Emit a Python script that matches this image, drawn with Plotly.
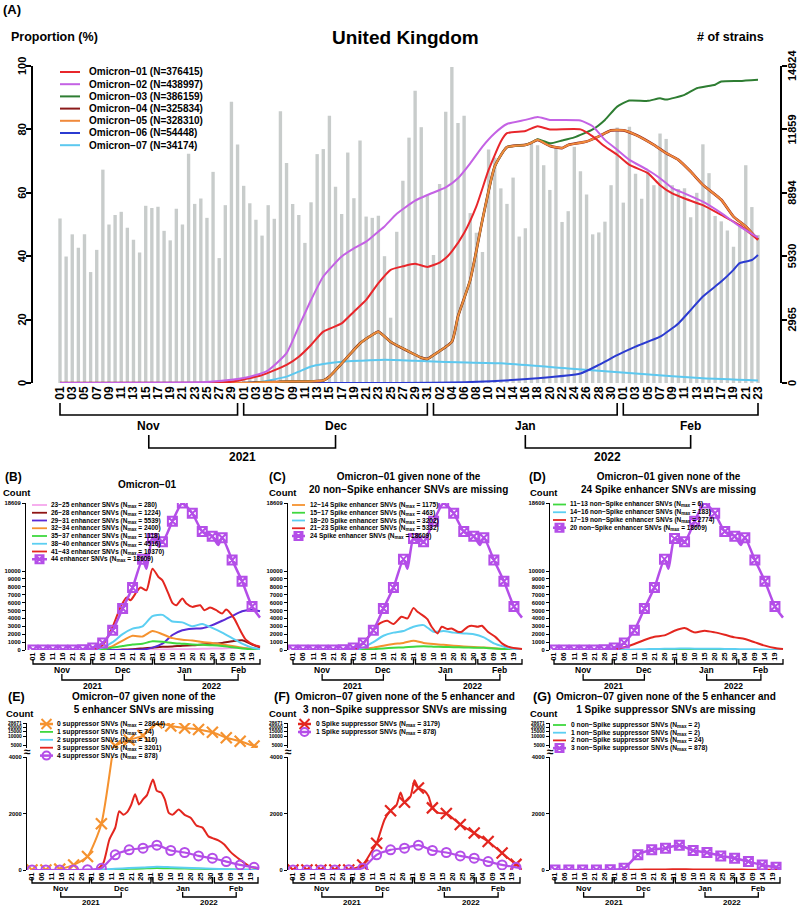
import datetime as dt
import math
import plotly.graph_objects as go

START = dt.date(2021, 11, 1)
LAST_DAY = 114

# ================= Panel A data =================
strains_per_day = [7694, 5915, 6952, 6330, 6952, 5188, 6226, 9977, 7412, 7857,
                   8005, 7264, 6700, 6107, 8287, 8183, 8242, 7116, 6671, 8153,
                   7412, 10718, 8376, 8628, 7723, 9873, 5841, 8316, 13149, 11148,
                   9221, 8405, 7634, 6893, 8316, 7679, 12704, 10288, 8376, 7857,
                   6552, 8450, 10703, 10940, 12497, 9176, 7901, 10777, 8642, 11340,
                   7783, 7723, 7827, 5930, 3054, 7071, 9458, 11474, 13668, 11963,
                   8776, 5989, 9309, 12689, 14780, 12156, 12497, 7946, 7027, 6122,
                   10925, 10540, 9102, 8376, 9606, 6849, 7234, 11177, 11118, 10184,
                   9028, 11029, 7531, 8035, 11044, 9902, 8820, 6952, 7041, 7545,
                   9250, 11948, 8435, 11978, 9784, 8613, 9932, 9250, 11666, 11414,
                   9250, 9072, 9102, 7753, 8894, 11162, 9813, 7812, 7560, 7130,
                   6374, 7412, 10184, 8227, 6923]
right_ticks = [0, 2965, 5930, 8894, 11859, 14824]
left_ticks = [0, 20, 40, 60, 80, 100]

om01_days = [0, 25, 28, 33, 37, 39, 41, 43, 46, 48, 50, 52, 54, 56, 58, 60, 62, 63, 64, 66,
             68, 70, 72, 73, 76, 78, 80, 85, 87, 89, 91, 93, 96, 98, 100, 102, 105, 108, 111, 114]
om01_vals = [0, 0.1, 0.4, 2.5, 5.7, 8.3, 12, 16.2, 18.8, 22.5, 26.2, 31.5, 35.7, 36.8, 37.6, 36.6, 38.0, 39.4, 41.5, 47.3,
             55.7, 67.2, 76.2, 78.8, 79.5, 81.0, 80.0, 80.0, 77.8, 74.6, 72.0, 68.8, 66.2, 62.4, 59.8, 58.2, 56.1, 53.0, 49.8, 45.2]
om02_days = [0, 24, 28, 31, 34, 37, 39, 41, 43, 46, 48, 50, 52, 53, 55, 58, 60, 63, 65, 67,
             69, 71, 73, 76, 78, 80, 85, 87, 89, 91, 93, 96, 98, 100, 102, 105, 108, 111, 114]
om02_vals = [0, 0.3, 1, 2, 4, 9.4, 17.8, 26.2, 33.6, 39.9, 42.5, 44.6, 47.8, 49.4, 53.4, 57.5, 59.3, 61.7, 64.6, 69.3,
             74.6, 78.8, 81.7, 83.0, 83.9, 83.0, 82.8, 81.0, 76.7, 73.6, 70.4, 67.2, 64.6, 61.5, 59.8, 57.2, 53.6, 49.4, 45.9]
om03_days = [0, 30, 36, 43, 44, 47, 49, 51, 52, 54, 57, 59, 60, 61, 64, 65, 67, 69, 71, 73,
             76, 77, 78, 80, 82, 84, 87, 89, 91, 93, 96, 98, 99, 102, 104, 107, 108, 111, 114]
om03_vals = [0, 0, 0.4, 0.8, 2, 8.3, 12.5, 15.2, 16.2, 13, 9.9, 8, 7.6, 8.8, 13, 21, 32.5, 51.5, 68.3, 74.4,
             75.1, 75.8, 76.9, 75.6, 76.5, 77.5, 80, 83, 87.2, 89.1, 89, 89.8, 89.4, 90.9, 93, 94.1, 95.1, 95.3, 95.7]
om04_days = [0, 30, 36, 43, 44, 47, 49, 51, 52, 54, 57, 59, 60, 61, 64, 65, 67, 69, 71, 73,
             76, 77, 78, 80, 82, 83, 86, 88, 90, 92, 94, 97, 99, 101, 103, 105, 108, 110, 112, 114]
om04_vals = [0, 0, 0.4, 0.8, 2, 8.3, 12.5, 15.2, 16.2, 13, 9.9, 8, 7.6, 8.8, 13, 21, 32.5, 51.5, 68.3, 74.4,
             75.1, 75.8, 76.7, 74.8, 74.1, 75.1, 76.2, 77.8, 79.7, 79.7, 78.3, 75.1, 72.5, 70.4, 66.7, 62.5, 57.8, 52.5, 49.4, 45.2]
om05_days = [0, 30, 36, 43, 44, 47, 49, 51, 52, 54, 57, 59, 60, 61, 64, 65, 67, 69, 71, 73,
             76, 77, 78, 80, 82, 83, 86, 88, 90, 92, 94, 97, 99, 101, 103, 105, 108, 110, 112, 114]
om05_vals = [0, 0, 0.4, 0.8, 2, 8.3, 12.5, 15.2, 16.2, 13, 9.9, 8, 7.6, 8.8, 13, 21, 32.5, 51.5, 68.3, 74.4,
             75.1, 75.8, 76.7, 74.8, 74.1, 75.1, 76.2, 77.8, 79.7, 79.7, 78.3, 75.1, 72.5, 70.4, 66.7, 62.5, 57.8, 52.5, 49.4, 45.2]
om06_days = [0, 55, 67, 78, 85, 88, 91, 94, 98, 101, 103, 105, 108, 110, 111, 113, 114]
om06_vals = [0, 0, 0.3, 1.5, 3, 5.7, 8.8, 11.5, 14.6, 18.8, 23, 27.3, 32, 35.7, 37.8, 38.8, 40.4]
om07_days = [0, 30, 33, 37, 39, 41, 43, 46, 49, 53, 58, 62, 72, 83, 94, 105, 114]
om07_vals = [0, 0, 0.4, 2, 3.6, 5.2, 6, 6.7, 7, 7.3, 7, 6.7, 6.2, 4.6, 3, 1.5, 0.8]

a_labels = ["Omicron−01 (N=376415)", "Omicron−02 (N=438997)", "Omicron−03 (N=386159)",
            "Omicron−04 (N=325834)", "Omicron−05 (N=328310)", "Omicron−06 (N=54448)",
            "Omicron−07 (N=34174)"]
a_colors = ["#e8262b", "#c462e4", "#2e7d32", "#8b1a1a", "#f08a3c", "#2b3bd1", "#5cc8ef"]

# ================= Panels B-D data (Omicron-01) =================
days5 = [0, 5, 10, 15, 20, 25, 30, 35, 40, 45, 50, 55, 60, 65, 70, 75, 80, 85, 90, 95, 100, 105, 110, 114]
all_enh_days = [0, 5, 10, 15, 20, 25, 30, 35, 40, 45, 50, 55, 57, 60, 65, 70, 75, 80, 85, 90, 93, 95, 100, 105, 110, 114]
all_enh_vals = [0, 0, 0, 0, 0, 30, 250, 900, 2500, 5250, 7900, 11500, 10300, 14100, 13700, 16300, 18609, 17300,
                15000, 14400, 13300, 14200, 11400, 8700, 5500, 4100]
b_23_25 = [0, 0, 0, 0, 0, 0, 0, 0, 0, 0, 0, 0, 0, 50, 80, 100, 120, 150, 180, 200, 250, 280, 200, 100]
b_26_28 = [0, 0, 0, 0, 0, 0, 0, 0, 0, 50, 100, 200, 300, 400, 450, 550, 600, 700, 800, 900, 1100, 1224, 700, 300]
b_29_31 = [0, 0, 0, 0, 0, 0, 0, 0, 0, 0, 20, 50, 300, 800, 1900, 2500, 2700, 2750, 3150, 3700, 4300, 4900, 5100, 4900]
b_32_34 = [0, 0, 0, 0, 0, 0, 0, 100, 500, 1200, 1800, 1700, 2400, 2000, 1500, 1300, 1200, 1000, 900, 700, 500, 300, 150, 80]
b_35_37 = [0, 0, 0, 0, 0, 0, 0, 50, 300, 500, 700, 800, 1100, 1050, 900, 800, 700, 650, 600, 500, 350, 200, 80, 40]
b_38_40 = [0, 0, 0, 0, 0, 0, 0, 300, 1000, 2000, 2700, 3000, 4300, 4450, 3600, 3500, 3000, 3300, 2800, 2200, 1500, 800, 300, 100]
b_41_43_days = [0, 30, 35, 40, 44, 47, 49, 52, 54, 57, 60, 63, 65, 68, 70, 72, 75, 77, 80, 84, 86, 89, 92, 95, 97,
                101, 104, 107, 111, 114]
b_41_43_vals = [0, 0, 630, 2940, 5460, 6640, 6300, 7350, 7900, 7560, 10300, 9240, 8820, 7140, 5970, 5670, 6510, 5880,
                5460, 5670, 5040, 5380, 5040, 4620, 5130, 4000, 2520, 1260, 630, 420]
c_12_14 = [0, 0, 0, 0, 0, 0, 0, 80, 300, 550, 750, 900, 1175, 900, 750, 650, 550, 450, 380, 320, 220, 120, 50, 20]
c_15_17 = [0, 0, 0, 0, 0, 0, 0, 30, 100, 200, 280, 330, 420, 463, 420, 380, 350, 320, 300, 270, 200, 120, 50, 20]
c_18_20 = [0, 0, 0, 0, 0, 0, 0, 300, 1000, 1800, 2200, 2400, 2950, 3150, 2300, 2400, 2200, 2100, 2000, 1600, 840, 420, 100, 50]
c_21_23_days = [0, 30, 35, 40, 42, 45, 47, 50, 54, 57, 60, 62, 66, 67, 69, 72, 74, 77, 79, 82, 84, 87, 89, 92, 94,
                97, 101, 104, 107, 111, 114]
c_21_23_vals = [0, 0, 840, 2520, 3150, 3600, 3700, 3280, 4200, 4000, 5332, 4830, 4120, 3870, 2940, 2100, 2940, 2650,
                2730, 2310, 2310, 2940, 3070, 2940, 3070, 2310, 1600, 840, 420, 210, 130]
d_11_13 = [0, 0, 0, 0, 0, 0, 0, 0, 0, 0, 1, 2, 3, 4, 5, 6, 5, 4, 3, 3, 2, 1, 1, 0]
d_14_16 = [0, 0, 0, 0, 0, 0, 0, 20, 60, 100, 130, 150, 170, 183, 170, 160, 150, 140, 120, 100, 80, 50, 20, 10]
d_17_19 = [0, 0, 0, 0, 0, 0, 50, 340, 760, 1260, 1680, 1850, 2440, 2774, 2230, 2440, 2230, 1930, 1600, 1390, 970, 550, 250, 130]

# ================= Panels E-G data (Omicron-07) =================
days7 = [0, 7, 14, 21, 28, 35, 42, 49, 56, 63, 70, 77, 84, 91, 98, 105, 112, 114]
e_0 = [0, 0, 30, 180, 480, 1640, 4800, 7500, 10700, 28644, 22800, 19400, 17300, 13800, 9000, 6800, 4700, 4400]
e_1 = [0, 0, 0, 0, 0, 5, 20, 40, 55, 74, 60, 50, 40, 30, 20, 10, 5, 3]
e_2 = [0, 0, 0, 0, 0, 10, 40, 70, 90, 116, 100, 80, 60, 45, 30, 15, 8, 5]
e_3_days = [0, 30, 33, 36, 39, 42, 44, 46, 48, 50, 52, 54, 56, 58, 61, 63, 65, 67, 69, 71, 74, 77, 80, 83, 86, 89,
            91, 94, 97, 100, 105, 110, 114]
e_3_vals = [0, 0, 30, 250, 1070, 1500, 2080, 1960, 2050, 2300, 2680, 2320, 2500, 2650, 3201, 2800, 2750, 2500, 2020,
            1960, 2140, 1950, 1850, 1570, 1500, 1190, 1130, 1050, 900, 650, 360, 120, 60]
all_supp = [0, 0, 0, 0, 10, 60, 536, 714, 774, 878, 690, 620, 500, 417, 298, 180, 95, 70]
f_0_days = [0, 7, 14, 21, 28, 35, 39, 42, 46, 49, 52, 54, 56, 59, 61, 63, 66, 68, 70, 73, 77, 84, 91, 98, 105, 112, 114]
f_0_vals = [0, 0, 0, 0, 0, 180, 600, 950, 1790, 2100, 2300, 2740, 2400, 2600, 3179, 2900, 2800, 2620, 2200, 2020,
            2000, 1610, 1310, 1010, 600, 200, 150]
g_0 = [0, 0, 0, 0, 0, 0, 1, 1, 2, 2, 2, 1, 1, 1, 0, 0, 0, 0]
g_1 = [0, 0, 0, 0, 0, 0, 1, 1, 2, 2, 2, 1, 1, 1, 0, 0, 0, 0]
g_2 = [0, 0, 0, 0, 0, 2, 10, 18, 22, 24, 22, 20, 18, 15, 12, 8, 5, 3]

sub_yticks = [0, 1000, 2000, 3000, 4000, 5000, 6000, 7000, 8000, 9000, 10000, 18609]
low_yticks = [0, 2000, 4000]
up_yticks = [5000, 10000, 15000, 20000, 28671]

PINK, DRED, INDIGO, ORANGE = "#f5a6ec", "#8e1414", "#5a2ad6", "#f5922f"
GREEN, CYAN, RED, PURPLE = "#3fd83f", "#5ccff2", "#e3261f", "#b44ee8"

# ================= helpers =================
W, H = 798, 908
def PX(p): return p / W
def PY(p): return 1 - p / H
FAM = "Liberation Sans, Arial, sans-serif"
def F(size): return dict(family=FAM, size=size, color="black", weight="bold")

def dlabel(d): return (START + dt.timedelta(days=int(d))).strftime("%d")

def month_spans():
    spans = []
    for d in range(LAST_DAY + 1):
        date = START + dt.timedelta(days=d)
        key = (date.year, date.strftime("%b"))
        if not spans or spans[-1][0] != key:
            spans.append([key, d, d])
        else:
            spans[-1][2] = d
    return spans

fig = go.Figure()
layout = dict(width=W, height=H, margin=dict(l=0, r=0, t=0, b=0, pad=0, autoexpand=False), showlegend=False,
              paper_bgcolor="white", plot_bgcolor="rgba(0,0,0,0)")

def text(x, y, t, size, xanchor="center", yanchor="middle", xref="paper", yref="paper", angle=0):
    fig.add_annotation(x=x, y=y, xref=xref, yref=yref, text=t, showarrow=False, font=F(size),
                       xanchor=xanchor, yanchor=yanchor, borderpad=0, textangle=angle)

def xcfg(dom, d0px, d1px, tickdays, fs):
    ppd = (d1px - d0px) / LAST_DAY
    r0 = (dom[0] - d0px) / ppd
    r1 = LAST_DAY + (dom[1] - d1px) / ppd
    return dict(domain=[PX(dom[0]), PX(dom[1])], range=[r0, r1], showgrid=False, zeroline=False,
                showline=False, ticks="", tickmode="array", tickvals=tickdays, automargin=False,
                ticktext=[dlabel(d) for d in tickdays], tickangle=-90, tickfont=F(fs), fixedrange=True)

def ycfg(top, bot, rng, tickvals, fs, anchor, side="left", typ="linear", ticklen=3, lw=1.3, labels=True):
    return dict(domain=[PY(bot), PY(top)], range=rng, type=typ, showgrid=False, zeroline=False, showline=True,
                linecolor="black", linewidth=lw, ticks="outside", ticklen=ticklen, tickwidth=lw, tickcolor="black",
                tickmode="array", tickvals=tickvals, ticktext=[str(v) for v in tickvals], tickfont=F(fs),
                anchor=anchor, side=side, fixedrange=True, automargin=False, showticklabels=labels)

def brackets(xref, m_top, m_bot, m_lab, y_top, y_bot, y_lab, fs, lw):
    centers = []
    for (yr, mname), d0, d1 in month_spans():
        fig.add_shape(type="path", xref=xref, yref="paper",
                      path=f"M {d0},{PY(m_top)} L {d0},{PY(m_bot)} L {d1},{PY(m_bot)} L {d1},{PY(m_top)}",
                      line=dict(color="black", width=lw))
        c = (d0 + d1) / 2
        text(c, PY(m_lab), mname, fs, xref=xref)
        centers.append((yr, c))
    years = {}
    for yr, c in centers:
        years.setdefault(yr, []).append(c)
    for yr, cs in years.items():
        a, b = cs[0], cs[-1]
        fig.add_shape(type="path", xref=xref, yref="paper",
                      path=f"M {a},{PY(y_top)} L {a},{PY(y_bot)} L {b},{PY(y_bot)} L {b},{PY(y_top)}",
                      line=dict(color="black", width=lw))
        text((a + b) / 2, PY(y_lab), str(yr), fs, xref=xref)

glyphs = []
def legend(entries, xl0, xl1, xt, y0, dy, fs, lw):
    for i, (label, color, sym, msize) in enumerate(entries):
        y = y0 + i * dy
        fig.add_shape(type="line", xref="paper", yref="paper", x0=PX(xl0), x1=PX(xl1), y0=PY(y), y1=PY(y),
                      line=dict(color=color, width=lw if sym is None else lw + 0.7))
        text(PX(xt), PY(y), label, fs, xanchor="left")
        if sym:
            glyphs.append((PX((xl0 + xl1) / 2), PY(y), color, sym, msize))

def series(xa, ya, days, vals, color, width=2.0, sym=None, every=None, msize=9, mlw=2.0):
    fig.add_trace(go.Scatter(x=days, y=vals, xaxis=xa, yaxis=ya, mode="lines", hoverinfo="skip",
                             line=dict(color=color, width=width, shape="spline", smoothing=0.6)))
    if sym:
        md = [d for d in days if d % every == 0]
        mv = [v for d, v in zip(days, vals) if d % every == 0]
        fig.add_trace(go.Scatter(x=md, y=mv, xaxis=xa, yaxis=ya, mode="markers", hoverinfo="skip",
                                 marker=dict(symbol=sym, size=msize, color=color,
                                             line=dict(color=color, width=mlw))))

# ================= Panel A =================
fig.add_trace(go.Bar(x=list(range(LAST_DAY + 1)), y=strains_per_day, xaxis="x", yaxis="y", width=0.55,
                     marker=dict(color="#c8cccb", line=dict(width=0)), hoverinfo="skip"))
a_series = [(om07_days, om07_vals, 6, 2.0), (om06_days, om06_vals, 5, 2.0), (om04_days, om04_vals, 3, 2.7),
            (om03_days, om03_vals, 2, 2.0), (om05_days, om05_vals, 4, 2.0), (om01_days, om01_vals, 0, 2.0),
            (om02_days, om02_vals, 1, 2.0)]
for dd, vv, ci, w in a_series:
    fig.add_trace(go.Scatter(x=dd, y=vv, xaxis="x", yaxis="y2", mode="lines", hoverinfo="skip",
                             line=dict(color=a_colors[ci], width=w, shape="spline", smoothing=0.5)))

layout["xaxis"] = xcfg((33, 780), 60, 758, list(range(0, LAST_DAY + 1, 2)), 12)
layout["yaxis"] = ycfg(66, 383, [0, 14824], right_ticks, 11, "x", side="right", ticklen=5, lw=1.5, labels=False)
layout["yaxis2"] = ycfg(66, 383, [0, 100], left_ticks, 11, "x", side="left", ticklen=5, lw=1.5, labels=False)
layout["yaxis2"]["overlaying"] = "y"
for v in right_ticks:
    text(PX(792), v, str(v), 11, yref="y", angle=-90)
for v in left_ticks:
    text(PX(22), v, str(v), 11, yref="y2", angle=-90)
brackets("x", 403, 415, 426, 435, 448, 457, 12, 1.6)
text(PX(2), PY(9), "(A)", 13, xanchor="left")
text(PX(405), PY(38), "United Kingdom", 19)
text(PX(10), PY(37), "Proportion (%)", 12.5, xanchor="left")
text(PX(765), PY(37), "# of strains", 12.5, xanchor="right")
legend([(a_labels[i], a_colors[i], None, 0) for i in range(7)], 60, 80, 88, 72, 12.2, 10, 2)

# ================= Panels B-D =================
sub_ticks = [d for d in days5 if d % 5 == 0]
panels_top = [
    ("B", "x2", "y3", (26, 262), 33, 260),
    ("C", "x3", "y4", (288, 524), 293, 522),
    ("D", "x4", "y5", (550, 785), 554, 783),
]
for name, xa, ya, dom, d0, d1 in panels_top:
    layout["xaxis" + xa[1:]] = xcfg(dom, d0, d1, sub_ticks, 7.5)
    layout["xaxis" + xa[1:]]["anchor"] = ya
    layout["yaxis" + ya[1:]] = ycfg(503, 650, [0, 18609], sub_yticks, 5.8, xa)
    brackets(xa, 659, 664, 670, 674, 680, 686, 8.5, 1.3)

series("x2", "y3", days5, b_23_25, PINK)
series("x2", "y3", days5, b_26_28, DRED)
series("x2", "y3", days5, b_29_31, INDIGO)
series("x2", "y3", days5, b_32_34, ORANGE)
series("x2", "y3", days5, b_35_37, GREEN)
series("x2", "y3", days5, b_38_40, CYAN)
series("x2", "y3", b_41_43_days, b_41_43_vals, RED)
series("x2", "y3", all_enh_days, all_enh_vals, PURPLE, 2.5, "square-x-open", 5, 9, 2)
series("x3", "y4", days5, c_12_14, ORANGE)
series("x3", "y4", days5, c_15_17, GREEN)
series("x3", "y4", days5, c_18_20, CYAN)
series("x3", "y4", c_21_23_days, c_21_23_vals, RED)
series("x3", "y4", all_enh_days, all_enh_vals, PURPLE, 2.5, "square-x-open", 5, 9, 2)
series("x4", "y5", days5, d_11_13, GREEN)
series("x4", "y5", days5, d_14_16, CYAN)
series("x4", "y5", days5, d_17_19, RED)
series("x4", "y5", all_enh_days, all_enh_vals, PURPLE, 2.5, "square-x-open", 5, 9, 2)

N = "N<sub>max</sub>"
legend([(f"23−25 enhancer SNVs ({N} = 280)", PINK, None, 0),
        (f"26−28 enhancer SNVs ({N} = 1224)", DRED, None, 0),
        (f"29−31 enhancer SNVs ({N} = 5539)", INDIGO, None, 0),
        (f"32−34 enhancer SNVs ({N} = 2400)", ORANGE, None, 0),
        (f"35−37 enhancer SNVs ({N} = 1118)", GREEN, None, 0),
        (f"38−40 enhancer SNVs ({N} = 4516)", CYAN, None, 0),
        (f"41−43 enhancer SNVs ({N} = 10370)", RED, None, 0),
        (f"44 enhancer SNVs ({N} = 18609)", PURPLE, "square-x-open", 8)],
       32, 47, 50, 505, 7.75, 6.5, 1.8)
legend([(f"12−14 Spike enhancer SNVs ({N} = 1175)", ORANGE, None, 0),
        (f"15−17 Spike enhancer SNVs ({N} = 463)", GREEN, None, 0),
        (f"18−20 Spike enhancer SNVs ({N} = 3202)", CYAN, None, 0),
        (f"21−23 Spike enhancer SNVs ({N} = 5332)", RED, None, 0),
        (f"24 Spike enhancer SNVs ({N} = 18609)", PURPLE, "square-x-open", 8)],
       292, 305, 309, 505, 7.75, 6.5, 1.8)
legend([(f"11−13 non−Spike enhancer SNVs ({N} = 6)", GREEN, None, 0),
        (f"14−16 non−Spike enhancer SNVs ({N} = 183)", CYAN, None, 0),
        (f"17−19 non−Spike enhancer SNVs ({N} = 2774)", RED, None, 0),
        (f"20 non−Spike enhancer SNVs ({N} = 18609)", PURPLE, "square-x-open", 8)],
       553, 566, 569, 504.5, 7.75, 6.5, 1.8)

text(PX(13), PY(477), "(B)", 12)
text(PX(277), PY(477), "(C)", 12)
text(PX(537), PY(477), "(D)", 12)
text(PX(147), PY(484), "Omicron−01", 10)
text(PX(408), PY(483.5), "Omicron−01 given none of the<br>20 non−Spike enhancer SNVs are missing", 10)
text(PX(668), PY(483.5), "Omicron−01 given none of the<br>24 Spike enhancer SNVs are missing", 10)
for cx in (17, 283, 544):
    text(PX(cx), PY(493), "Count", 9.5)

# ================= Panels E-G =================
panels_bot = [
    ("E", "x5", "y6", "y7", (27, 262), 32, 258),
    ("F", "x6", "y8", "y9", (288, 523), 293, 520),
    ("G", "x7", "y10", "y11", (550, 783), 555, 780),
]
for name, xa, ylo, yup, dom, d0, d1 in panels_bot:
    layout["xaxis" + xa[1:]] = xcfg(dom, d0, d1, sub_ticks, 7.5)
    layout["xaxis" + xa[1:]]["anchor"] = ylo
    layout["yaxis" + ylo[1:]] = ycfg(757, 870, [0, 4000], low_yticks, 5.8, xa)
    layout["yaxis" + yup[1:]] = ycfg(723, 748, [math.log10(4000), math.log10(28671)], up_yticks, 5.0, xa,
                                     typ="log")
    brackets(xa, 877, 883, 888.5, 892, 897, 902.5, 8, 1.3)
    text(PX(dom[0]), PY(751.5), "≈", 12)

for ya in ("y6", "y7"):
    series("x5", ya, days7, e_0, ORANGE, 2.0, "x-thin", 7, 11, 2.2)
series("x5", "y6", days7, e_1, GREEN)
series("x5", "y6", days7, e_2, CYAN)
series("x5", "y6", e_3_days, e_3_vals, RED)
series("x5", "y6", days7, all_supp, PURPLE, 2.2, "circle-open", 7, 9, 2)
series("x6", "y8", f_0_days, f_0_vals, RED, 2.0, "x-thin", 7, 11, 2.2)
series("x6", "y9", f_0_days, f_0_vals, RED, 2.0)
series("x6", "y8", days7, all_supp, PURPLE, 2.2, "circle-open", 7, 9, 2)
series("x7", "y10", days7, g_0, GREEN)
series("x7", "y10", days7, g_1, CYAN)
series("x7", "y10", days7, g_2, RED)
series("x7", "y10", days7, all_supp, PURPLE, 2.5, "square-x-open", 7, 9, 2)
series("x7", "y11", days7, all_supp, PURPLE, 2.5)

legend([(f"0 suppressor SNVs ({N} = 28644)", ORANGE, "x-thin", 10),
        (f"1 suppressor SNVs ({N} = 74)", GREEN, None, 0),
        (f"2 suppressor SNVs ({N} = 116)", CYAN, None, 0),
        (f"3 suppressor SNVs ({N} = 3201)", RED, None, 0),
        (f"4 suppressor SNVs ({N} = 878)", PURPLE, "circle-open", 8)],
       40, 53, 56, 724, 7.9, 6.7, 1.8)
legend([(f"0 Spike suppressor SNVs ({N} = 3179)", RED, "x-thin", 10),
        (f"1 Spike suppressor SNVs ({N} = 878)", PURPLE, "circle-open", 8)],
       298, 311, 315, 724, 8.0, 6.7, 1.8)
legend([(f"0 non−Spike suppressor SNVs ({N} = 2)", GREEN, None, 0),
        (f"1 non−Spike suppressor SNVs ({N} = 2)", CYAN, None, 0),
        (f"2 non−Spike suppressor SNVs ({N} = 24)", RED, None, 0),
        (f"3 non−Spike suppressor SNVs ({N} = 878)", PURPLE, "square-x-open", 8)],
       553, 566, 570, 725, 7.7, 6.7, 1.8)

text(PX(16), PY(697), "(E)", 12.5)
text(PX(282), PY(697), "(F)", 12.5)
text(PX(542), PY(697), "(G)", 12.5)
text(PX(144), PY(703), "Omicron−07 given none of the<br>5 enhancer SNVs are missing", 10)
text(PX(405), PY(703), "Omicron−07 given none of the 5 enhancer and<br>3 non−Spike suppressor SNVs are missing", 10)
text(PX(666), PY(703), "Omicron−07 given none of the 5 enhancer and<br>1 Spike suppressor SNVs are missing", 10)
for cx in (20, 283, 544):
    text(PX(cx), PY(713), "Count", 9.5)

# ================= legend glyphs on a full-figure overlay axis =================
layout["xaxis8"] = dict(domain=[0, 1], range=[0, 1], visible=False, fixedrange=True, anchor="y12", automargin=False)
layout["yaxis12"] = dict(domain=[0, 1], range=[0, 1], visible=False, fixedrange=True, anchor="x8", automargin=False)
for gx, gy, col, sym, ms in glyphs:
    fig.add_trace(go.Scatter(x=[gx], y=[gy], xaxis="x8", yaxis="y12", mode="markers", hoverinfo="skip",
                             cliponaxis=False,
                             marker=dict(symbol=sym, size=ms, color=col, line=dict(color=col, width=2))))

fig.update_layout(**layout)
fig.write_html("out.html", config={"displayModeBar": False},
               post_script="document.body.style.margin='0px';document.body.style.overflow='hidden';")
